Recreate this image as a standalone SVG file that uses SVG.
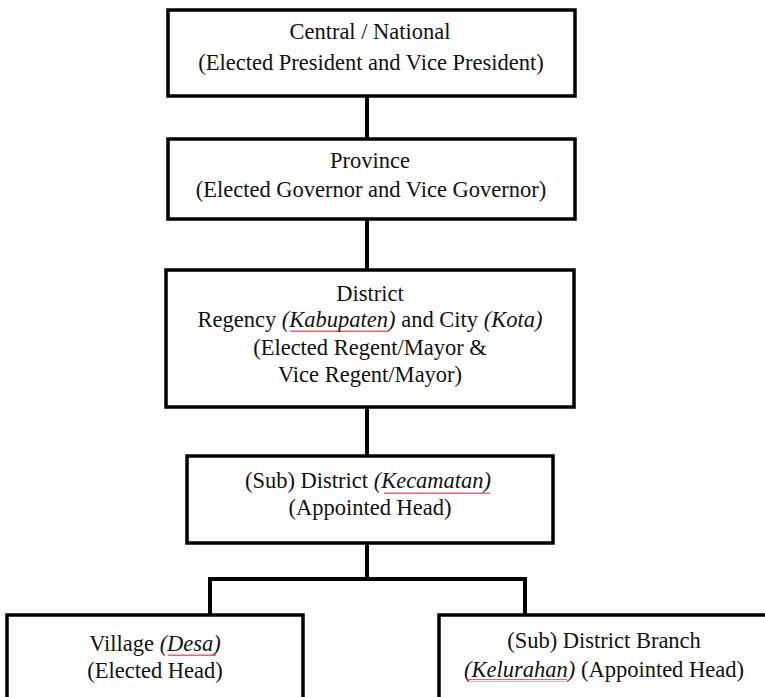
<svg xmlns="http://www.w3.org/2000/svg" width="765" height="697" viewBox="0 0 765 697">
<style>
.box{fill:#fff;stroke:#000;stroke-width:3.5}
.conn{fill:none;stroke:#000;stroke-width:4}
text{font-family:"Liberation Serif","Times New Roman",serif;font-size:22.5px;fill:#111;text-anchor:middle}
.it{font-style:italic}
.sq{fill:none;stroke:#e02020;stroke-width:1}
</style>
<defs>
<pattern id="wave" width="4" height="3" patternUnits="userSpaceOnUse"><path d="M0,2 L1,0.5 L2,2 L3,0.5 L4,2" fill="none" stroke="#e02020" stroke-width="0.8"/></pattern>
</defs>
<rect width="765" height="697" fill="#fff"/>
<g id="connectors">
<line class="conn" x1="367" y1="96" x2="367" y2="139"/>
<line class="conn" x1="367" y1="219" x2="367" y2="270"/>
<line class="conn" x1="367" y1="407" x2="367" y2="456"/>
<line class="conn" x1="367" y1="543" x2="367" y2="579"/>
<polyline class="conn" points="210,615 210,579 525,579 525,615"/>
</g>
<g id="central">
<rect class="box" x="168" y="10" width="407" height="86"/>
<text x="370" y="39">Central / National</text>
<text x="371" y="70">(Elected President and Vice President)</text>
</g>
<g id="province">
<rect class="box" x="168" y="139" width="407" height="80"/>
<text x="370" y="168">Province</text>
<text x="371" y="197">(Elected Governor and Vice Governor)</text>
</g>
<g id="district">
<rect class="box" x="166" y="270" width="408" height="137"/>
<text x="370" y="301">District</text>
<text x="370" y="327">Regency <tspan class="it">(Kabupaten)</tspan> and City <tspan class="it">(Kota)</tspan></text>
<text x="370" y="355">(Elected Regent/Mayor &amp;</text>
<text x="370" y="382">Vice Regent/Mayor)</text>
<rect x="290" y="329" width="98" height="3" fill="url(#wave)"/>
</g>
<g id="subdistrict">
<rect class="box" x="187" y="456" width="366" height="87"/>
<text x="368" y="488">(Sub) District <tspan class="it">(Kecamatan)</tspan></text>
<text x="370" y="515">(Appointed Head)</text>
<rect x="384" y="491" width="106" height="3" fill="url(#wave)"/>
</g>
<g id="village">
<rect class="box" x="7" y="615" width="296" height="100"/>
<text x="155" y="651">Village <tspan class="it">(Desa)</tspan></text>
<text x="155" y="678">(Elected Head)</text>
<rect x="168" y="654" width="48" height="3" fill="url(#wave)"/>
</g>
<g id="kelurahan">
<rect class="box" x="439" y="615" width="340" height="100"/>
<text x="604" y="648">(Sub) District Branch</text>
<text x="604" y="677"><tspan class="it">(Kelurahan)</tspan> (Appointed Head)</text>
<rect x="467" y="679" width="100" height="3" fill="url(#wave)"/>
</g>
</svg>
